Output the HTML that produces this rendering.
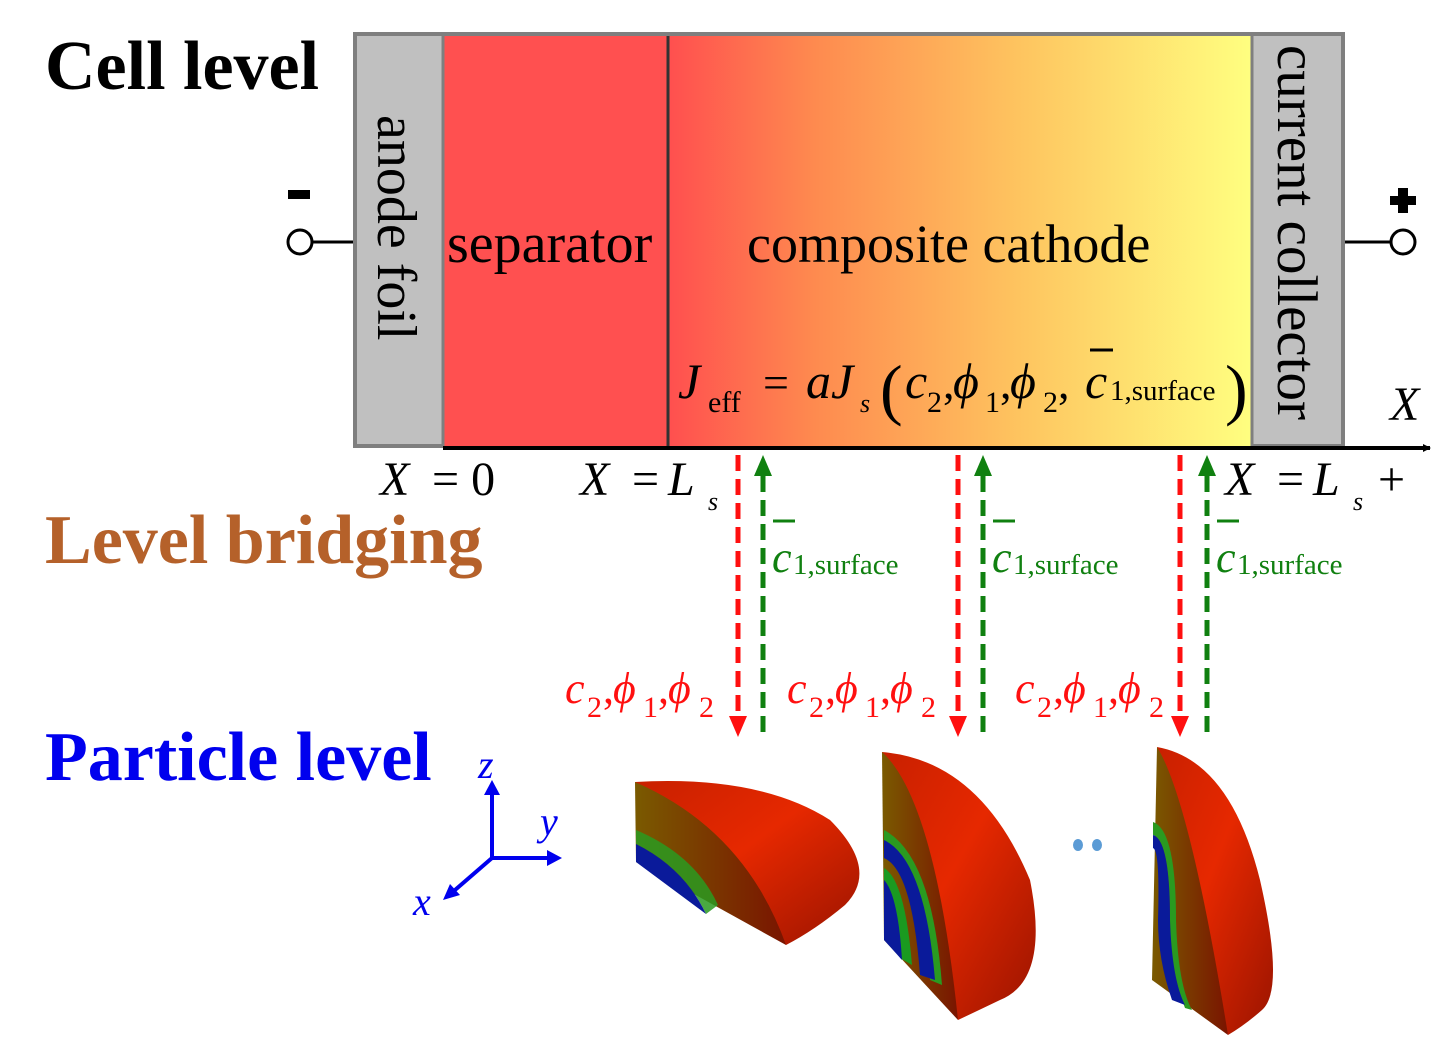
<!DOCTYPE html>
<html><head><meta charset="utf-8"><style>
html,body{margin:0;padding:0;background:#fff;}
svg{display:block;font-family:"Liberation Serif",serif;}
</style></head><body>
<svg width="1433" height="1039" viewBox="0 0 1433 1039">
<defs>
<linearGradient id="cath" x1="0" x2="1" y1="0" y2="0">
<stop offset="0" stop-color="#ff4f4f"/><stop offset="0.25" stop-color="#fe8a4f"/><stop offset="0.6" stop-color="#fec45f"/><stop offset="1" stop-color="#ffff80"/>
</linearGradient>
<linearGradient id="face" x1="0" x2="1" y1="0" y2="0">
<stop offset="0" stop-color="#7a5a00"/><stop offset="1" stop-color="#7a1400"/>
</linearGradient>
<linearGradient id="shell" x1="0" x2="1" y1="0" y2="1">
<stop offset="0" stop-color="#c82000"/><stop offset="0.45" stop-color="#e62800"/><stop offset="1" stop-color="#9a1400"/>
</linearGradient>
<marker id="ar" markerWidth="8" markerHeight="8" refX="7" refY="4" orient="auto" markerUnits="userSpaceOnUse"><path d="M0,0 L8,4 L0,8z" fill="#000"/></marker>
</defs>

<text x="45" y="89" font-size="70" font-weight="bold">Cell level</text>
<text x="45" y="563" font-size="70" font-weight="bold" fill="#b5612a">Level bridging</text>
<text x="45" y="780" font-size="70" font-weight="bold" fill="#0000ee">Particle level</text>

<g>
<rect x="355" y="34" width="988" height="412" fill="#c0c0c0" stroke="#7f7f7f" stroke-width="4"/>
<rect x="443" y="36" width="225" height="410" fill="#ff5050"/>
<rect x="668" y="36" width="584" height="410" fill="url(#cath)"/>
<line x1="443" y1="36" x2="443" y2="446" stroke="#7f7f7f" stroke-width="3"/>
<line x1="668" y1="36" x2="668" y2="446" stroke="#333" stroke-width="3"/>
<line x1="1252" y1="36" x2="1252" y2="446" stroke="#7f7f7f" stroke-width="3"/>
</g>
<text transform="translate(378,115) rotate(90)" font-size="56">anode foil</text>
<text transform="translate(1278,45) rotate(90)" font-size="57">current collector</text>
<text x="447" y="262" font-size="56">separator</text>
<text x="747" y="262" font-size="54">composite cathode</text>

<g>
<text x="678" y="398" font-size="50" font-style="italic">J</text>
<text x="708" y="412" font-size="30">eff</text>
<text x="763" y="398" font-size="46">=</text>
<text x="806" y="398" font-size="50" font-style="italic">aJ</text>
<text x="860" y="412" font-size="26" font-style="italic">s</text>
<text x="880" y="412" font-size="68">(</text>
<text x="905" y="398" font-size="50" font-style="italic">c</text>
<text x="927" y="412" font-size="30">2</text>
<text x="943" y="398" font-size="46">,</text>
<text x="953" y="398" font-size="50" font-style="italic">ϕ</text>
<text x="985" y="412" font-size="30">1</text>
<text x="1000" y="398" font-size="46">,</text>
<text x="1010" y="398" font-size="50" font-style="italic">ϕ</text>
<text x="1043" y="412" font-size="30">2</text>
<text x="1058" y="398" font-size="46">,</text>
<line x1="1090" y1="350" x2="1113" y2="350" stroke="#000" stroke-width="3"/>
<text x="1085" y="398" font-size="50" font-style="italic">c</text>
<text x="1110" y="400" font-size="29">1,surface</text>
<text x="1225" y="412" font-size="68">)</text>
</g>

<g>
<line x1="443" y1="448" x2="1430" y2="448" stroke="#000" stroke-width="4" marker-end="url(#ar)"/>
<text x="1390" y="420" font-size="48" font-style="italic">X</text>
<text x="380" y="495" font-size="48" font-style="italic">X</text>
<text x="432" y="495" font-size="48">= 0</text>
<text x="580" y="495" font-size="48" font-style="italic">X</text>
<text x="632" y="495" font-size="48">=</text>
<text x="668" y="495" font-size="48" font-style="italic">L</text>
<text x="708" y="510" font-size="26" font-style="italic">s</text>
<text x="1225" y="495" font-size="48" font-style="italic">X</text>
<text x="1277" y="495" font-size="48">=</text>
<text x="1313" y="495" font-size="48" font-style="italic">L</text>
<text x="1353" y="510" font-size="26" font-style="italic">s</text>
<text x="1378" y="495" font-size="48">+</text>
</g>

<g>
<rect x="288" y="190" width="22" height="9" fill="#000"/>
<circle cx="300" cy="242" r="12" fill="#fff" stroke="#000" stroke-width="3"/>
<line x1="312" y1="242" x2="353" y2="242" stroke="#000" stroke-width="3"/>
</g>
<g>
<rect x="1390" y="196" width="26" height="9" fill="#000"/><rect x="1398" y="188" width="10" height="25" fill="#000"/>
<circle cx="1403" cy="242" r="12" fill="#fff" stroke="#000" stroke-width="3"/>
<line x1="1345" y1="242" x2="1391" y2="242" stroke="#000" stroke-width="3"/>
</g>

<g id="bridges"></g>

<g fill="#ff1010">
<g transform="translate(565,0)">
<text x="0" y="703" font-size="44" font-style="italic">c</text><text x="22" y="717" font-size="30">2</text><text x="38" y="703" font-size="44">,</text>
<text x="48" y="703" font-size="44" font-style="italic">ϕ</text><text x="78" y="717" font-size="30">1</text><text x="93" y="703" font-size="44">,</text>
<text x="103" y="703" font-size="44" font-style="italic">ϕ</text><text x="134" y="717" font-size="30">2</text>
</g>
<g transform="translate(787,0)">
<text x="0" y="703" font-size="44" font-style="italic">c</text><text x="22" y="717" font-size="30">2</text><text x="38" y="703" font-size="44">,</text>
<text x="48" y="703" font-size="44" font-style="italic">ϕ</text><text x="78" y="717" font-size="30">1</text><text x="93" y="703" font-size="44">,</text>
<text x="103" y="703" font-size="44" font-style="italic">ϕ</text><text x="134" y="717" font-size="30">2</text>
</g>
<g transform="translate(1015,0)">
<text x="0" y="703" font-size="44" font-style="italic">c</text><text x="22" y="717" font-size="30">2</text><text x="38" y="703" font-size="44">,</text>
<text x="48" y="703" font-size="44" font-style="italic">ϕ</text><text x="78" y="717" font-size="30">1</text><text x="93" y="703" font-size="44">,</text>
<text x="103" y="703" font-size="44" font-style="italic">ϕ</text><text x="134" y="717" font-size="30">2</text>
</g>
</g>

<g fill="#108010">
<g transform="translate(772,0)"><line x1="1" y1="521" x2="23" y2="521" stroke="#108010" stroke-width="3"/><text x="0" y="572" font-size="44" font-style="italic">c</text><text x="21" y="574" font-size="29">1,surface</text></g>
<g transform="translate(992,0)"><line x1="1" y1="521" x2="23" y2="521" stroke="#108010" stroke-width="3"/><text x="0" y="572" font-size="44" font-style="italic">c</text><text x="21" y="574" font-size="29">1,surface</text></g>
<g transform="translate(1216,0)"><line x1="1" y1="521" x2="23" y2="521" stroke="#108010" stroke-width="3"/><text x="0" y="572" font-size="44" font-style="italic">c</text><text x="21" y="574" font-size="29">1,surface</text></g>
</g>

<g stroke="#0000ee" stroke-width="4" fill="#0000ee">
<line x1="492" y1="858" x2="492" y2="792"/><path d="M484,795 L492,780 L500,795z" stroke="none"/>
<line x1="492" y1="858" x2="550" y2="858"/><path d="M547,850 L562,858 L547,866z" stroke="none"/>
<line x1="492" y1="858" x2="455" y2="890"/><path d="M450,884 L443,900 L460,895z" stroke="none"/>
<text x="478" y="778" font-size="40" font-style="italic" stroke="none">z</text>
<text x="540" y="835" font-size="40" font-style="italic" stroke="none">y</text>
<text x="413" y="915" font-size="40" font-style="italic" stroke="none">x</text>
</g>

<g>
<path d="M635,782 Q760,775 830,820 Q880,870 845,905 Q815,930 786,945 Z" fill="url(#shell)"/>
<path d="M635,782 Q745,830 786,945 L636,862 Z" fill="url(#face)"/>
<path d="M636,830 Q695,855 718,905 L706,914 Q684,868 636,844Z" fill="#2a9a20" opacity="0.85"/>
<path d="M636,844 Q684,868 706,914 L636,862Z" fill="#0a1a9a"/>
</g>
<g>
<path d="M882,752 Q980,760 1030,880 Q1050,980 1000,1000 Q975,1012 958,1020 Z" fill="url(#shell)"/>
<path d="M882,752 Q935,800 958,1020 L884,940 Z" fill="url(#face)"/>
<path d="M884,830 Q932,855 942,985 L930,980 Q920,870 884,845Z" fill="#2a9a20"/>
<path d="M884,840 Q925,860 935,980 L920,975 Q912,870 884,858Z" fill="#0a1a9a"/>
<path d="M884,868 Q905,880 912,965 L900,958 Q895,890 884,880Z" fill="#1a9a20"/>
<path d="M884,880 Q898,895 902,960 L884,940Z" fill="#0a1a9a"/>
</g>
<g>
<path d="M1157,747 Q1230,760 1260,880 Q1285,990 1262,1010 Q1245,1025 1228,1035 Z" fill="url(#shell)"/>
<path d="M1157,747 Q1190,800 1228,1035 L1152,980 Z" fill="url(#face)"/>
<path d="M1153,822 Q1176,830 1176,920 Q1178,985 1192,1010 L1185,1008 Q1170,970 1170,920 Q1170,840 1153,835Z" fill="#2a9a20"/>
<path d="M1153,835 Q1170,840 1170,920 Q1172,980 1185,1005 L1172,1000 Q1158,960 1158,920 Q1160,850 1153,848Z" fill="#0a1a9a"/>
</g>
<ellipse cx="1078" cy="845" rx="5" ry="6" fill="#5b9bd5"/>
<ellipse cx="1097" cy="845" rx="5" ry="6" fill="#5b9bd5"/>

<script>
const redX = [738, 958, 1180];
const greenX = [763, 983, 1207];
const NS = "http://www.w3.org/2000/svg";
const g = document.getElementById('bridges');
function mk(tag, attrs){const e=document.createElementNS(NS,tag);for(const k in attrs)e.setAttribute(k,attrs[k]);g.appendChild(e);return e;}
redX.forEach((x)=>{
  const l = mk('line',{x1:x,y1:455,x2:x,y2:718,stroke:'#ff1010','stroke-width':5,'stroke-dasharray':'16 8'});
  
  
  mk('path',{d:`M${x-9},716 L${x+9},716 L${x},737Z`,fill:'#ff1010'});
});
greenX.forEach((x)=>{
  const l = mk('line',{x1:x,y1:732,x2:x,y2:474,stroke:'#108010','stroke-width':5,'stroke-dasharray':'16 8'});
  
  
  mk('path',{d:`M${x-9},476 L${x+9},476 L${x},455Z`,fill:'#108010'});
});
</script>
</svg>
</body></html>
